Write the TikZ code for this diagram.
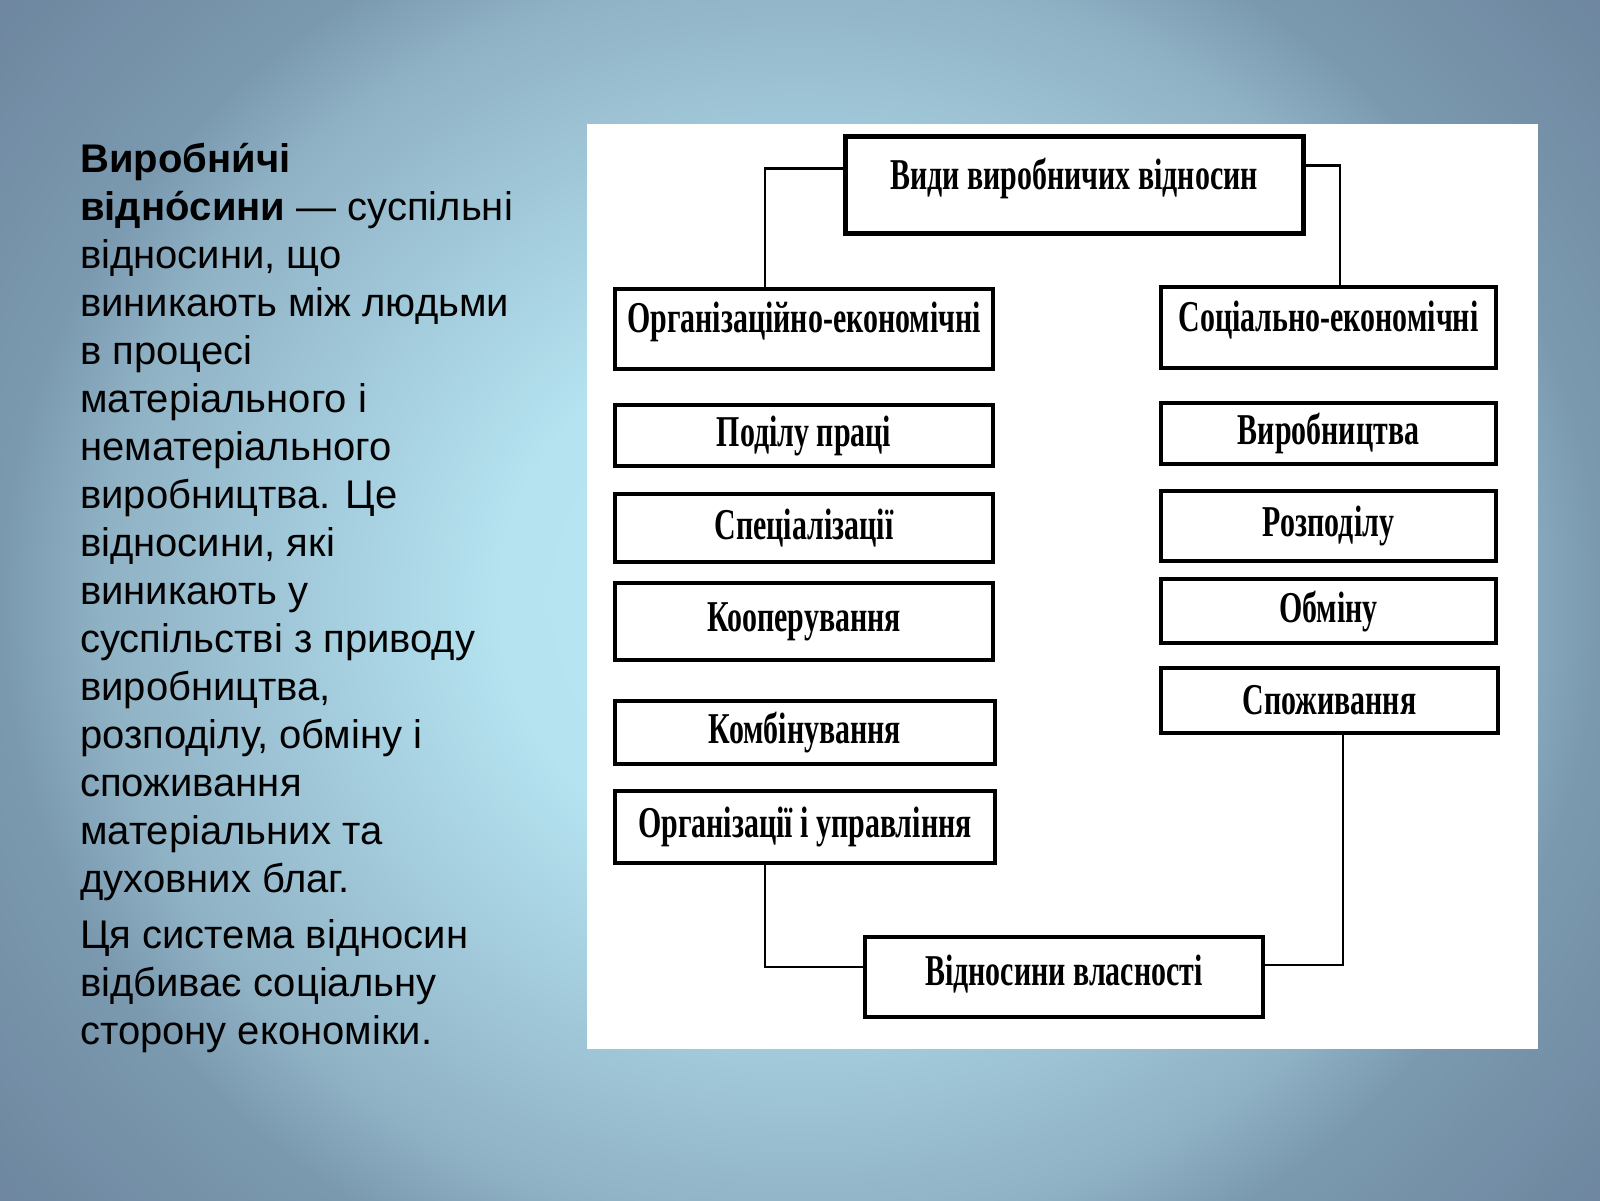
\documentclass[tikz,border=0pt]{standalone}
\usepackage{fontspec}
\setmainfont{Liberation Sans}
\newfontfamily\diafont[FakeStretch=0.68]{Liberation Serif}
\newfontfamily\txtfont{Liberation Sans}
\definecolor{bgA}{HTML}{B8E6F3}
\definecolor{bgB}{HTML}{B5E3F0}
\definecolor{bgC}{HTML}{A2CADB}
\definecolor{bgD}{HTML}{8FB1C4}
\definecolor{bgE}{HTML}{7A99AF}
\definecolor{bgF}{HTML}{6E869F}
\definecolor{bgG}{HTML}{6C849D}
\pgfdeclareradialshading{bgshade}{\pgfpoint{0bp}{0bp}}{color(0bp)=(bgA); color(7.5bp)=(bgB); color(12.5bp)=(bgC); color(17.5bp)=(bgD); color(20bp)=(bgE); color(26bp)=(bgF); color(50bp)=(bgG)}
\begin{document}
\begin{tikzpicture}[x=1pt,y=-1pt,
  box/.style={draw=black, line width=3.5pt, fill=white, inner sep=0pt,
    font=\diafont\bfseries\fontsize{44}{50}\selectfont},
  topbox/.style={box, line width=5pt},
  upper/.style={text height=30pt, text depth=#1},
  link/.style={draw=black, line width=2.5pt}]
\useasboundingbox (0,0) rectangle (1600,1200);
\begin{scope}
\clip (0,0) rectangle (1600,1200);
\shade[shading=bgshade] (-200,-309) rectangle (1800,1509);
\end{scope}
% left text
\node[anchor=north west, align=left, inner sep=0pt, text=black,
  font=\txtfont\fontsize{40}{48}\selectfont] (txt) at (80,143) {%
\textbf{Виробни́чі}\\
\textbf{відно́сини} — суспільні\\
відносини, що\\
виникають між людьми\\
в процесі\\
матеріального і\\
нематеріального\\
виробництва. Це\\
відносини, які\\
виникають у\\
суспільстві з приводу\\
виробництва,\\
розподілу, обміну і\\
споживання\\
матеріальних та\\
духовних благ.\\[8pt]
Ця система відносин\\
відбиває соціальну\\
сторону економіки.};
% white panel
\node[fill=white, inner sep=0pt, minimum width=951, minimum height=925] (panel) at (1062.5,586.5) {};
% boxes
\node[topbox, upper=20pt, minimum width=458, minimum height=97] (top) at (1074,184.5) {Види виробничих відносин};
\node[box, upper=24pt, minimum width=378, minimum height=80] (org) at (804,329) {Організаційно-економічні};
\node[box, upper=22pt, minimum width=335, minimum height=81] (soc) at (1328.5,327.5) {Соціально-економічні};
\node[box, minimum width=378, minimum height=61] (p1) at (804,435.5) {Поділу праці};
\node[box, minimum width=378, minimum height=68] (p2) at (804,528) {Спеціалізації};
\node[box, minimum width=378, minimum height=77] (p3) at (804,621.5) {Кооперування};
\node[box, minimum width=380, minimum height=63] (p4) at (805,732.5) {Комбінування};
\node[box, minimum width=380, minimum height=72] (p5) at (805,827) {Організації і управління};
\node[box, minimum width=335, minimum height=61] (s1) at (1328.5,433.5) {Виробництва};
\node[box, minimum width=335, minimum height=70] (s2) at (1328.5,526) {Розподілу};
\node[box, minimum width=335, minimum height=64] (s3) at (1328.5,611) {Обміну};
\node[box, minimum width=337, minimum height=65] (s4) at (1329.5,700.5) {Споживання};
\node[box, upper=13.4pt, minimum width=398, minimum height=80] (own) at (1064,977) {Відносини власності};
% connectors
\draw[link] ([yshift=16pt]top.west) -| ([xshift=-39pt]org.north);
\draw[link] ([yshift=19pt]top.east) -| ([xshift=11.5pt]soc.north);
\draw[link] ([xshift=-40pt]p5.south) |- ([yshift=10pt]own.west);
\draw[link] ([xshift=13.5pt]s4.south) |- ([yshift=12pt]own.east);
\end{tikzpicture}
\end{document}
